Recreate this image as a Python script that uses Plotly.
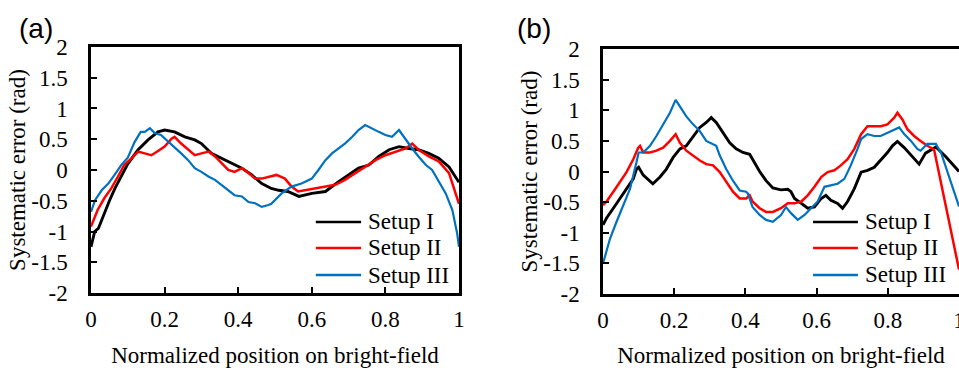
import plotly.graph_objects as go

# ---------------- data ----------------
names = ["Setup I", "Setup II", "Setup III"]
colors = ["#000000", "#FF0000", "#0070C0"]
widths = [2.9, 2.5, 2.2]

# panel (a)
a1_x = [0, 0.01, 0.02, 0.035, 0.05, 0.065, 0.08, 0.1, 0.128, 0.155, 0.182, 0.2, 0.227, 0.255, 0.282, 0.3,
        0.327, 0.355, 0.382, 0.41, 0.437, 0.464, 0.49, 0.51, 0.535, 0.565, 0.6, 0.637, 0.673, 0.7, 0.727,
        0.755, 0.782, 0.81, 0.837, 0.864, 0.89, 0.918, 0.945, 0.973, 0.995, 1.0]
a1_y = [-1.25, -1.0, -0.95, -0.72, -0.5, -0.3, -0.12, 0.1, 0.33, 0.49, 0.62, 0.65, 0.62, 0.54, 0.49, 0.43,
        0.27, 0.19, 0.11, 0.03, -0.08, -0.22, -0.30, -0.33, -0.35, -0.43, -0.38, -0.35, -0.19, -0.08, 0.03,
        0.08, 0.22, 0.33, 0.38, 0.35, 0.33, 0.27, 0.19, 0.05, -0.16, -0.2]

a2_x = [0, 0.018, 0.036, 0.055, 0.073, 0.09, 0.11, 0.128, 0.146, 0.164, 0.18, 0.2, 0.219, 0.227, 0.245,
        0.264, 0.282, 0.3, 0.32, 0.337, 0.355, 0.373, 0.39, 0.41, 0.428, 0.446, 0.464, 0.482, 0.504, 0.527,
        0.545, 0.563, 0.582, 0.61, 0.637, 0.664, 0.69, 0.718, 0.745, 0.773, 0.8, 0.828, 0.855, 0.873, 0.89,
        0.918, 0.945, 0.973, 0.995, 1.0]
a2_y = [-0.92, -0.65, -0.46, -0.30, -0.11, 0.08, 0.19, 0.30, 0.27, 0.24, 0.30, 0.38, 0.51, 0.54, 0.43,
        0.33, 0.24, 0.27, 0.30, 0.22, 0.11, 0.0, -0.03, 0.03, -0.05, -0.14, -0.14, -0.11, -0.08, -0.14,
        -0.27, -0.35, -0.33, -0.30, -0.27, -0.24, -0.16, -0.05, 0.05, 0.16, 0.24, 0.30, 0.35, 0.43, 0.33,
        0.22, 0.14, -0.05, -0.43, -0.55]

a3_x = [0, 0.011, 0.029, 0.047, 0.064, 0.082, 0.1, 0.118, 0.135, 0.146, 0.16, 0.173, 0.19, 0.21, 0.227,
        0.245, 0.264, 0.282, 0.3, 0.32, 0.337, 0.355, 0.373, 0.39, 0.41, 0.428, 0.446, 0.464, 0.482, 0.49,
        0.518, 0.545, 0.572, 0.6, 0.618, 0.637, 0.655, 0.673, 0.69, 0.71, 0.727, 0.745, 0.764, 0.782, 0.8,
        0.818, 0.837, 0.855, 0.873, 0.89, 0.91, 0.927, 0.945, 0.964, 0.982, 0.995, 1.0]
a3_y = [-0.68, -0.49, -0.33, -0.22, -0.08, 0.08, 0.2, 0.45, 0.62, 0.62, 0.68, 0.60, 0.57, 0.46, 0.38,
        0.27, 0.16, 0.03, -0.03, -0.11, -0.16, -0.24, -0.33, -0.41, -0.43, -0.52, -0.54, -0.60, -0.57, -0.55,
        -0.38, -0.27, -0.22, -0.14, 0.0, 0.16, 0.27, 0.35, 0.43, 0.54, 0.65, 0.73, 0.68, 0.62, 0.57,
        0.54, 0.65, 0.49, 0.35, 0.22, 0.08, 0.0, -0.19, -0.38, -0.65, -1.03, -1.25]

# panel (b)
b1_x = [0, 0.01, 0.029, 0.048, 0.066, 0.085, 0.094, 0.1, 0.113, 0.132, 0.14, 0.16, 0.178, 0.197, 0.216,
        0.234, 0.253, 0.272, 0.29, 0.304, 0.318, 0.337, 0.356, 0.374, 0.393, 0.412, 0.42, 0.44, 0.458,
        0.477, 0.5, 0.519, 0.528, 0.538, 0.557, 0.575, 0.594, 0.613, 0.626, 0.64, 0.659, 0.673, 0.687,
        0.706, 0.725, 0.743, 0.762, 0.78, 0.799, 0.813, 0.827, 0.846, 0.865, 0.888, 0.906, 0.935, 0.963,
        0.981, 1.0]
b1_y = [-0.87, -0.76, -0.60, -0.44, -0.28, -0.12, 0.04, 0.07, -0.06, -0.17, -0.20, -0.09, 0.04, 0.23, 0.37,
        0.42, 0.58, 0.72, 0.80, 0.88, 0.80, 0.63, 0.47, 0.37, 0.31, 0.28, 0.20, 0.0, -0.15, -0.27, -0.30,
        -0.29, -0.33, -0.44, -0.52, -0.60, -0.58, -0.44, -0.39, -0.47, -0.52, -0.60, -0.49, -0.28, -0.01,
        0.02, 0.07, 0.18, 0.31, 0.42, 0.49, 0.39, 0.26, 0.12, 0.30, 0.40, 0.24, 0.13, 0.0]

b2_x = [0, 0.01, 0.029, 0.048, 0.066, 0.085, 0.099, 0.104, 0.113, 0.132, 0.15, 0.169, 0.188, 0.204, 0.216,
        0.234, 0.253, 0.272, 0.29, 0.309, 0.328, 0.346, 0.365, 0.384, 0.402, 0.412, 0.42, 0.44, 0.458, 0.477,
        0.5, 0.519, 0.538, 0.557, 0.575, 0.594, 0.613, 0.631, 0.65, 0.668, 0.687, 0.706, 0.725, 0.743, 0.762,
        0.78, 0.799, 0.818, 0.827, 0.841, 0.855, 0.874, 0.892, 0.911, 0.93, 0.944, 0.965, 0.985, 1.0]
b2_y = [-0.55, -0.49, -0.33, -0.17, -0.01, 0.20, 0.39, 0.42, 0.31, 0.31, 0.34, 0.39, 0.50, 0.61, 0.47,
        0.34, 0.26, 0.18, 0.12, 0.10, -0.01, -0.17, -0.33, -0.44, -0.44, -0.39, -0.49, -0.60, -0.66, -0.66,
        -0.60, -0.52, -0.52, -0.49, -0.39, -0.25, -0.09, -0.01, 0.02, 0.10, 0.20, 0.37, 0.61, 0.74, 0.74,
        0.74, 0.77, 0.88, 0.96, 0.85, 0.69, 0.58, 0.50, 0.42, 0.36, -0.05, -0.62, -1.18, -1.6]

b3_x = [0, 0.02, 0.038, 0.057, 0.076, 0.094, 0.1, 0.113, 0.132, 0.15, 0.169, 0.188, 0.204, 0.216, 0.234,
        0.253, 0.272, 0.29, 0.309, 0.318, 0.328, 0.346, 0.365, 0.384, 0.402, 0.407, 0.42, 0.44, 0.458, 0.477,
        0.5, 0.514, 0.528, 0.547, 0.566, 0.585, 0.603, 0.622, 0.64, 0.659, 0.678, 0.696, 0.715, 0.725, 0.743,
        0.762, 0.78, 0.799, 0.818, 0.832, 0.846, 0.865, 0.883, 0.892, 0.911, 0.935, 0.95, 0.963, 0.981,
        0.997, 1.0]
b3_y = [-1.5, -1.09, -0.82, -0.55, -0.28, 0.15, 0.31, 0.31, 0.42, 0.58, 0.77, 0.96, 1.17, 1.06, 0.90,
        0.77, 0.66, 0.50, 0.45, 0.42, 0.26, 0.04, -0.15, -0.31, -0.33, -0.36, -0.58, -0.71, -0.79, -0.82,
        -0.71, -0.58, -0.68, -0.79, -0.71, -0.60, -0.49, -0.25, -0.23, -0.20, -0.12, 0.10, 0.37, 0.53, 0.61,
        0.58, 0.58, 0.63, 0.69, 0.72, 0.61, 0.50, 0.37, 0.34, 0.45, 0.45, 0.30, 0.08, -0.25, -0.52, -0.57]

x_tickvals = [0, 0.2, 0.4, 0.6, 0.8, 1]
x_ticktext = ["0", "0.2", "0.4", "0.6", "0.8", "1"]
y_tickvals = [-2, -1.5, -1, -0.5, 0, 0.5, 1, 1.5, 2]
y_ticktext = ["-2", "-1.5", "-1", "-0.5", "0", "0.5", "1", "1.5", "2"]
x_title = "Normalized position on bright-field"
y_title = "Systematic error (rad)"
panel_labels = ["(a)", "(b)"]

# ---------------- figure ----------------
SERIF = "Liberation Serif, Times New Roman, serif"
FS = 23

fig = go.Figure()
panels = [
    ("x", "y", [(a1_x, a1_y), (a2_x, a2_y), (a3_x, a3_y)]),
    ("x2", "y2", [(b1_x, b1_y), (b2_x, b2_y), (b3_x, b3_y)]),
]
for xa, ya, series in panels:
    for (xs, ys), nm, c, w in zip(series, names, colors, widths):
        fig.add_trace(go.Scatter(x=xs, y=ys, mode="lines", name=nm, xaxis=xa, yaxis=ya,
                                 line=dict(color=c, width=w), showlegend=False))

def xaxis_cfg(domain, anchor):
    return dict(domain=domain, anchor=anchor, range=[0, 1], tickvals=x_tickvals, ticktext=x_ticktext,
                ticks="inside", ticklen=6, tickwidth=2, tickcolor="black", automargin=False,
                showline=True, linewidth=2.5, linecolor="black", mirror=True,
                showgrid=False, zeroline=False, ticklabelstandoff=4, ticklabeloverflow="allow",
                tickfont=dict(family=SERIF, size=FS, color="black"),
                title=dict(text=x_title, font=dict(family=SERIF, size=FS, color="black"), standoff=16))

def yaxis_cfg(domain, anchor):
    return dict(domain=domain, anchor=anchor, range=[-2, 2], tickvals=y_tickvals, ticktext=y_ticktext,
                ticks="inside", ticklen=6, tickwidth=2, tickcolor="black", automargin=False,
                showline=True, linewidth=2.5, linecolor="black", mirror=True,
                showgrid=False, zeroline=False, ticklabelstandoff=16,
                tickfont=dict(family=SERIF, size=FS, color="black"),
                title=dict(text=y_title, font=dict(family=SERIF, size=FS, color="black"), standoff=0))

fig.update_layout(
    template="none",
    width=959, height=368, margin=dict(l=0, r=0, t=0, b=0, autoexpand=False),
    paper_bgcolor="white", plot_bgcolor="white", showlegend=False,
    xaxis=xaxis_cfg([0.0949, 0.4786], "y"),
    yaxis=yaxis_cfg([0.2038, 0.8723], "x"),
    xaxis2=xaxis_cfg([0.6288, 1.0], "y2"),
    yaxis2=yaxis_cfg([0.2011, 0.8668], "x2"),
)

# panel labels
for lbl, px in zip(panel_labels, [0.0375, 0.5568]):
    fig.add_annotation(text=lbl, x=px, y=0.922, xref="paper", yref="paper", showarrow=False,
                       xanchor="center", yanchor="middle",
                       font=dict(family="Liberation Sans, Arial, sans-serif", size=28, color="black"))

# manual legends (inside plot, lower right)
legend_specs = [
    ("x domain", "y domain", 0.611, 0.734, 0.748, [0.289, 0.183, 0.073]),
    ("x2 domain", "y2 domain", 0.590, 0.716, 0.730, [0.294, 0.188, 0.078]),
]
for xr, yr, lx0, lx1, tx, rows in legend_specs:
    for nm, c, w, ry in zip(names, colors, widths, rows):
        fig.add_shape(type="line", xref=xr, yref=yr, x0=lx0, x1=lx1, y0=ry, y1=ry,
                      line=dict(color=c, width=2.5))
        fig.add_annotation(text=nm, xref=xr, yref=yr, x=tx, y=ry, showarrow=False,
                           xanchor="left", yanchor="middle",
                           font=dict(family=SERIF, size=FS, color="black"))

fig.write_html("out.html")
